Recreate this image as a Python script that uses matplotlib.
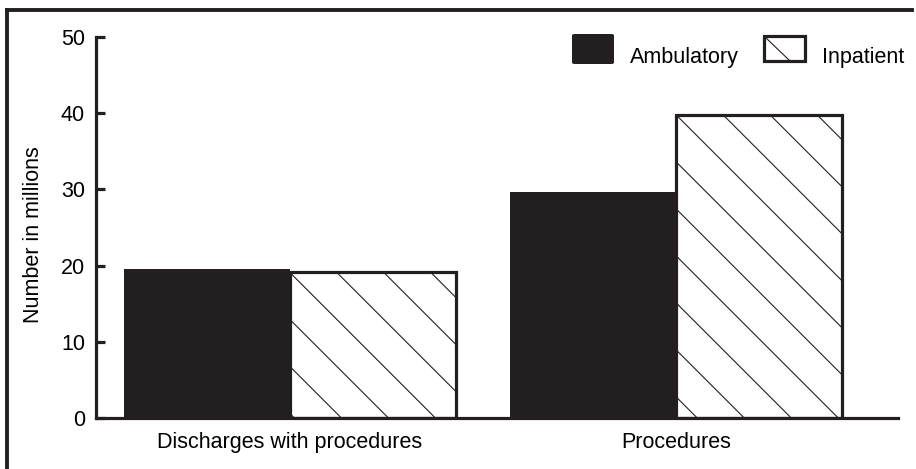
import matplotlib
matplotlib.use("Agg")
import matplotlib.pyplot as plt
import matplotlib.patches as mpatches
from matplotlib.lines import Line2D
import numpy as np

plt.rcParams['font.family'] = ['Liberation Sans', 'DejaVu Sans']

# data (millions)
categories = ["Discharges with procedures", "Procedures"]
ambulatory = [19.5, 29.6]
inpatient = [19.1, 39.8]
series_names = ["Ambulatory", "Inpatient"]

W, H = 916, 469
DARK = '#231f20'
FS = 15.5


def fpx(x, y):
    # pixel position -> figure fraction
    return x / W, 1 - y / H


fig = plt.figure(figsize=(W / 100, H / 100), dpi=100)
ax = fig.add_axes([96 / W, 1 - 418 / H, (898 - 96) / W, (418 - 37) / H])

x = np.arange(len(categories))
width = 0.43
ax.bar(x - width / 2, ambulatory, width, color=DARK, edgecolor='none', zorder=2)
inp_bars = ax.bar(x + width / 2, inpatient, width, facecolor='none', edgecolor=DARK,
                  linewidth=2.3, zorder=3)

ax.set_xlim(-0.502, 1.575)
ax.set_ylim(0, 50)

# wide diagonal hatch, drawn in pixel space and clipped to each bar
spacing = 47
inv = ax.transData.inverted()
for bar in inp_bars:
    (x0, y0), (x1, y1) = ax.transData.transform([(bar.get_x(), 0), (bar.get_x() + bar.get_width(), bar.get_height())])
    span = (x1 - x0) + (y1 - y0)
    for k in range(-int(span / spacing) - 2, int(span / spacing) + 2):
        sx = x0 + k * spacing
        pts = np.array([(sx - span, y1 + span), (sx + span, y1 - span)])
        d = inv.transform(pts)
        ln, = ax.plot(d[:, 0], d[:, 1], color=DARK, lw=0.8, zorder=2.5)
        ln.set_clip_path(bar)

for s in ['top', 'right']:
    ax.spines[s].set_visible(False)
for s in ['left', 'bottom']:
    ax.spines[s].set_linewidth(2.3)
    ax.spines[s].set_color(DARK)

ax.set_yticks([0, 10, 20, 30, 40, 50])
ax.tick_params(axis='y', direction='in', length=6.5, width=2.3, color=DARK, pad=8, labelsize=FS)
ax.set_xticks(x)
ax.set_xticklabels(categories)
ax.tick_params(axis='x', length=0, pad=10, labelsize=FS)
ax.set_ylabel("Number in millions", fontsize=FS)
ax.yaxis.set_label_coords(34 / W, fpx(0, 235)[1], transform=fig.transFigure)
ax.yaxis.label.set_va('center')

# legend
x_a, y_a = fpx(572, 64)
fig.add_artist(mpatches.FancyBboxPatch((x_a, y_a), 42 / W, 30 / H, boxstyle="round,pad=0,rounding_size=0.003",
                                       transform=fig.transFigure, facecolor=DARK, edgecolor='none'))
fig.text(*fpx(630, 63), series_names[0], fontsize=FS, va='baseline', ha='left')
x_b, y_b = fpx(764, 61)
fig.add_artist(mpatches.Rectangle((x_b, y_b), 41 / W, 25 / H, transform=fig.transFigure,
                                  facecolor='white', edgecolor=DARK, linewidth=2.3))
fig.add_artist(Line2D([fpx(765, 0)[0], fpx(789, 0)[0]], [fpx(0, 37)[1], fpx(0, 60)[1]],
                      transform=fig.transFigure, color=DARK, lw=0.8))
fig.text(*fpx(822, 63), series_names[1], fontsize=FS, va='baseline', ha='left')

# outer frame (top and left edges visible)
fig.add_artist(Line2D([fpx(7, 0)[0], fpx(912, 0)[0]], [fpx(0, 10)[1]] * 2,
                      transform=fig.transFigure, color=DARK, lw=2.8))
fig.add_artist(Line2D([fpx(7, 0)[0]] * 2, [fpx(0, 10)[1], 0],
                      transform=fig.transFigure, color=DARK, lw=2.8))

fig.savefig("out.png", dpi=100)
